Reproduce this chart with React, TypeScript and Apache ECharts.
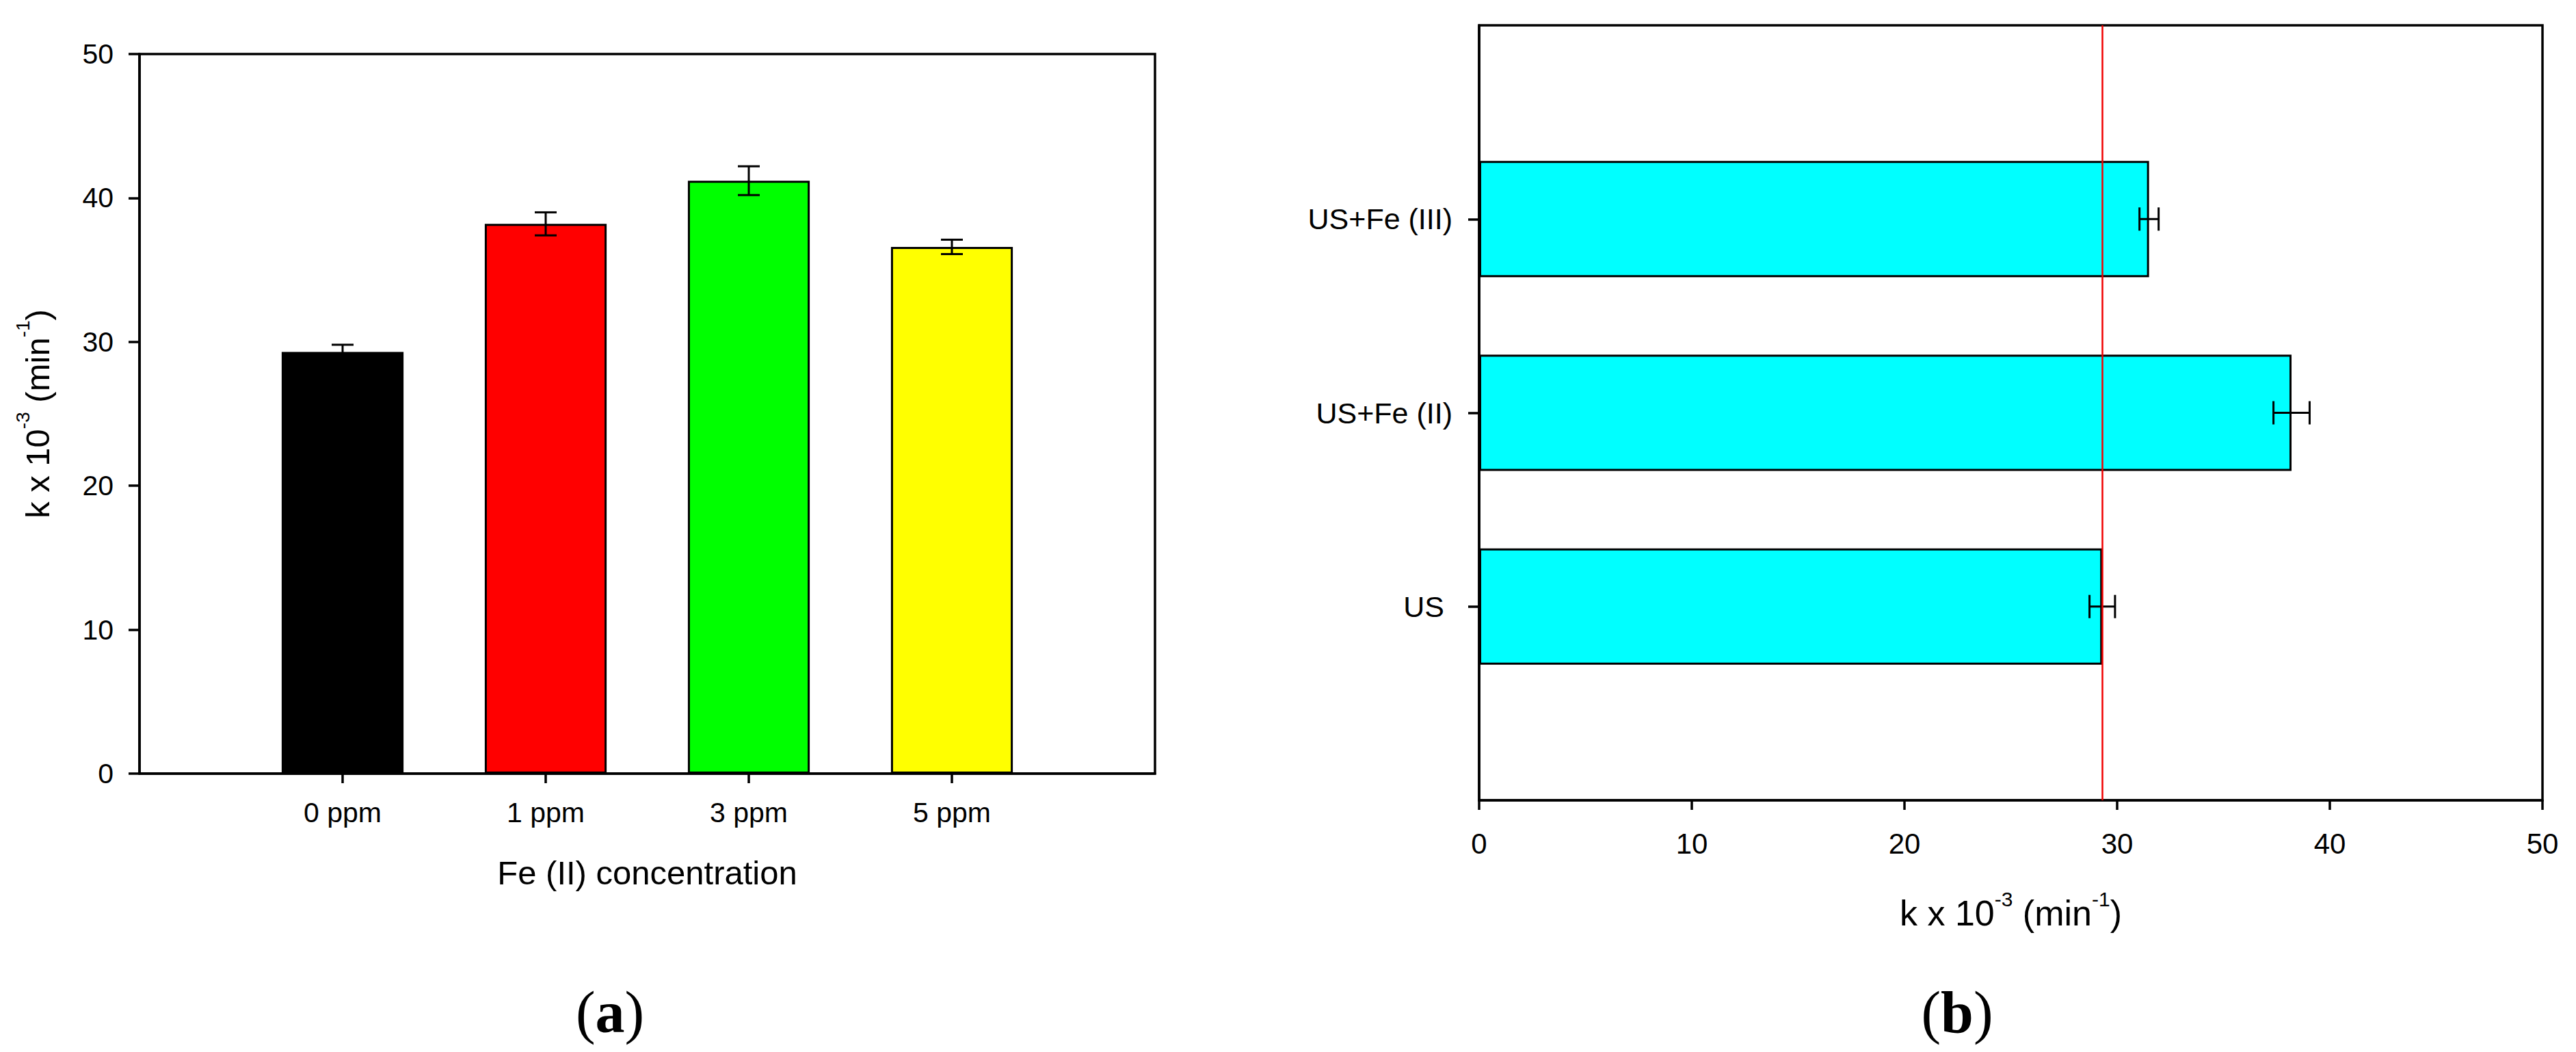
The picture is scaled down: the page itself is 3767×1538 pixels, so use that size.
import React, { useEffect, useRef } from 'react';
import * as echarts from 'echarts';

// ---- Data (panel a) ----
const feCategories = ['0 ppm', '1 ppm', '3 ppm', '5 ppm'];
const feValues = [29.3, 38.2, 41.2, 36.6];
const feErrors = [0.5, 0.8, 1.0, 0.5];
const feColors = ['#000000', '#ff0000', '#00ff00', '#ffff00'];

// ---- Data (panel b) ----
const usCategories = ['US ', 'US+Fe (II)', 'US+Fe (III)'];
const usValues = [29.3, 38.2, 31.5];
const usErrors = [0.6, 0.85, 0.45];
const referenceValue = 29.3;

// ---- Axis ----
const kMin = 0;
const kMax = 50;
const kInterval = 10;

const FONT = 'Liberation Sans';
const SERIF = 'Liberation Serif';

const pad = (cats: string[]) => ['', ...cats, ''];

function kName() {
  return '{n|k x 10}{s|-3}{n| (min}{s|-1}{n|)}';
}
function kRich(F: number, S: number, sh: number, lh: number) {
  return {
    n: { fontSize: F, fontFamily: FONT, color: '#000', lineHeight: lh },
    s: { fontSize: S, fontFamily: FONT, color: '#000', height: sh, verticalAlign: 'top' },
  };
}

export default function App() {
  const ref = useRef<HTMLDivElement>(null);
  useEffect(() => {
    if (!ref.current) return;
    const chart = echarts.init(ref.current, undefined, { renderer: 'svg' });
    const axisLine = { show: true, onZero: false, lineStyle: { color: '#000', width: 3.5 } };
    const tickStyle = { color: '#000', width: 3.5 };

    const errV = (capHalf: number) => (params: any, api: any) => {
      const x = api.value(0);
      const y = api.value(1);
      const e = api.value(2);
      const hi = api.coord([x, y + e]);
      const lo = api.coord([x, y - e]);
      const style = { stroke: '#000', lineWidth: 3 };
      return {
        type: 'group',
        children: [
          { type: 'line', shape: { x1: hi[0], y1: hi[1], x2: lo[0], y2: lo[1] }, style },
          { type: 'line', shape: { x1: hi[0] - capHalf, y1: hi[1], x2: hi[0] + capHalf, y2: hi[1] }, style },
          { type: 'line', shape: { x1: lo[0] - capHalf, y1: lo[1], x2: lo[0] + capHalf, y2: lo[1] }, style },
        ],
      };
    };
    const errH = (capHalf: number) => (params: any, api: any) => {
      const x = api.value(0);
      const y = api.value(1);
      const e = api.value(2);
      const hi = api.coord([x + e, y]);
      const lo = api.coord([x - e, y]);
      const style = { stroke: '#000', lineWidth: 3 };
      return {
        type: 'group',
        children: [
          { type: 'line', shape: { x1: lo[0], y1: lo[1], x2: hi[0], y2: hi[1] }, style },
          { type: 'line', shape: { x1: hi[0], y1: hi[1] - capHalf, x2: hi[0], y2: hi[1] + capHalf }, style },
          { type: 'line', shape: { x1: lo[0], y1: lo[1] - capHalf, x2: lo[0], y2: lo[1] + capHalf }, style },
        ],
      };
    };

    const option: any = {
      animation: false,
      backgroundColor: '#ffffff',
      grid: [
        { left: 204, top: 79, width: 1485, height: 1052, show: true, borderColor: '#000', borderWidth: 3.5, containLabel: false },
        { left: 2163, top: 37, width: 1555, height: 1133, show: true, borderColor: '#000', borderWidth: 3.5, containLabel: false },
      ],
      xAxis: [
        {
          gridIndex: 0,
          type: 'category',
          data: pad(feCategories),
          boundaryGap: false,
          axisLine,
          axisTick: { show: true, length: 14, lineStyle: tickStyle, interval: (i: number, v: string) => v !== '' },
          axisLabel: { color: '#000', fontSize: 41, fontFamily: FONT, margin: 36, interval: 0 },
          splitLine: { show: false },
          name: 'Fe (II) concentration',
          nameLocation: 'middle',
          nameGap: 120,
          nameTextStyle: { color: '#000', fontSize: 49, fontFamily: FONT },
        },
        {
          gridIndex: 1,
          type: 'value',
          min: kMin,
          max: kMax,
          interval: kInterval,
          axisLine,
          axisTick: { show: true, length: 14, lineStyle: tickStyle },
          axisLabel: { color: '#000', fontSize: 42, fontFamily: FONT, margin: 42 },
          splitLine: { show: false },
          name: kName(),
          nameLocation: 'middle',
          nameGap: 134,
          nameTextStyle: { rich: kRich(52, 30, 20, 62) },
        },
      ],
      yAxis: [
        {
          gridIndex: 0,
          type: 'value',
          min: kMin,
          max: kMax,
          interval: kInterval,
          axisLine,
          axisTick: { show: true, length: 16, lineStyle: tickStyle },
          axisLabel: { color: '#000', fontSize: 41, fontFamily: FONT, margin: 38 },
          splitLine: { show: false },
          name: kName(),
          nameLocation: 'middle',
          nameGap: 120,
          nameTextStyle: { rich: kRich(49, 28, 14, 58) },
        },
        {
          gridIndex: 1,
          type: 'category',
          data: pad(usCategories),
          boundaryGap: false,
          axisLine,
          axisTick: { show: true, length: 16, lineStyle: tickStyle, interval: (i: number, v: string) => v !== '' },
          axisLabel: { color: '#000', fontSize: 43, fontFamily: FONT, margin: 39, interval: 0 },
          splitLine: { show: false },
        },
      ],
      series: [
        {
          type: 'bar',
          xAxisIndex: 0,
          yAxisIndex: 0,
          barWidth: '60%',
          data: feValues.map((v, i) => ({
            value: [i + 1, v],
            itemStyle: { color: feColors[i], borderColor: '#000', borderWidth: 3 },
          })),
        },
        {
          type: 'custom',
          xAxisIndex: 0,
          yAxisIndex: 0,
          z: 4,
          renderItem: errV(16),
          data: feValues.map((v, i) => [i + 1, v, feErrors[i]]),
        },
        {
          type: 'bar',
          xAxisIndex: 1,
          yAxisIndex: 1,
          barWidth: '60%',
          data: usValues.map((v, i) => ({
            value: [v, i + 1],
            itemStyle: { color: '#00ffff', borderColor: '#000', borderWidth: 3 },
          })),
          markLine: {
            silent: true,
            symbol: 'none',
            z: 6,
            label: { show: false },
            lineStyle: { color: '#f00000', width: 2.5, type: 'solid' },
            data: [{ xAxis: referenceValue }],
          },
        },
        {
          type: 'custom',
          xAxisIndex: 1,
          yAxisIndex: 1,
          z: 4,
          renderItem: errH(17),
          encode: { x: 0, y: 1 },
          data: usValues.map((v, i) => [v, i + 1, usErrors[i]]),
        },
      ],
      graphic: [
        {
          type: 'text',
          x: 892,
          y: 1480,
          style: {
            text: '{p|(}{b|a}{p|)}',
            align: 'center',
            verticalAlign: 'middle',
            rich: {
              p: { fontSize: 86, fontFamily: SERIF, fill: '#000', color: '#000' },
              b: { fontSize: 86, fontFamily: SERIF, fontWeight: 'bold', fill: '#000', color: '#000' },
            },
          },
        },
        {
          type: 'text',
          x: 2862,
          y: 1480,
          style: {
            text: '{p|(}{b|b}{p|)}',
            align: 'center',
            verticalAlign: 'middle',
            rich: {
              p: { fontSize: 86, fontFamily: SERIF, fill: '#000', color: '#000' },
              b: { fontSize: 86, fontFamily: SERIF, fontWeight: 'bold', fill: '#000', color: '#000' },
            },
          },
        },
      ],
    };
    chart.setOption(option);
    return () => chart.dispose();
  }, []);
  return (
    <div
      ref={ref}
      style={{ position: 'absolute', left: 0, top: 0, width: 3767, height: 1538, background: '#fff' }}
    />
  );
}
